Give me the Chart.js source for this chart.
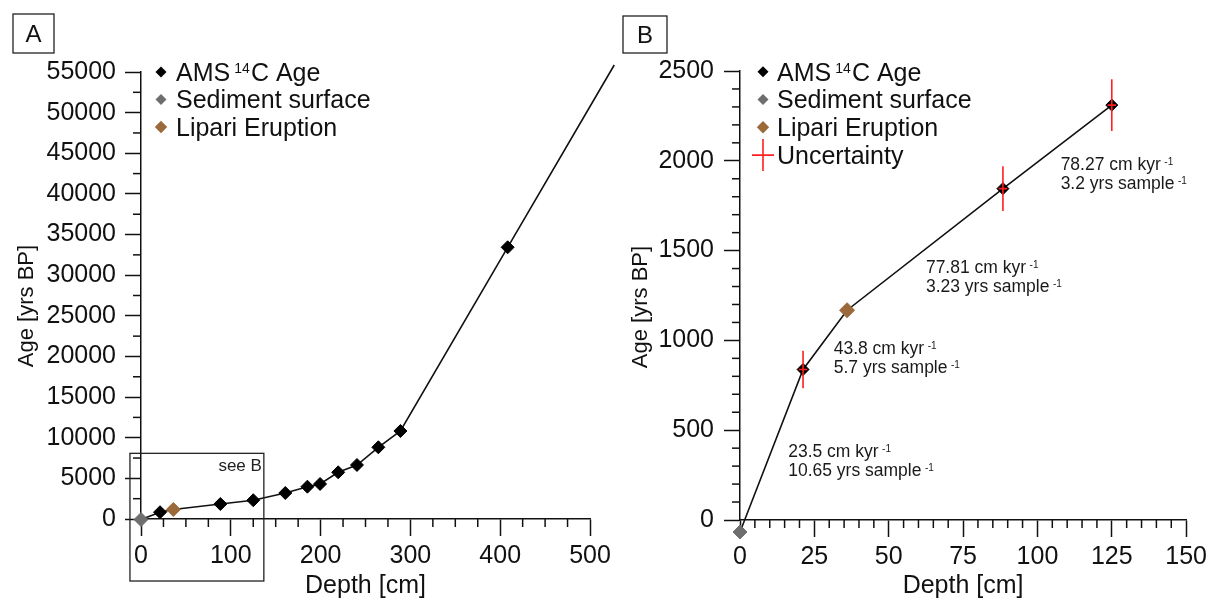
<!DOCTYPE html>
<html>
<head>
<meta charset="utf-8">
<title>Age-depth model</title>
<script src="https://cdn.jsdelivr.net/npm/chart.js@4.4.1/dist/chart.umd.min.js"></script>
<style>
  html, body { margin: 0; padding: 0; background: #fff; }
  #wrap { position: relative; width: 1212px; height: 601px; overflow: hidden; }
  .panel { position: absolute; top: 0; height: 601px; }
</style>
</head>
<body>
<div id="wrap">
  <div class="panel" style="left:0;width:616px"><canvas id="cA" width="616" height="601"></canvas></div>
  <div class="panel" style="left:616px;width:596px"><canvas id="cB" width="596" height="601"></canvas></div>
</div>
<script>
Chart.defaults.font.family = "'Liberation Sans', Arial, Helvetica, sans-serif";
Chart.defaults.color = '#111';

// ---- age-depth data: depth in cm, age in yrs BP ----
const surfaceDepth = [0];
const surfaceAge = [-67];
const lipariDepth = [36];
const lipariAge = [1168];
const amsDepth = [21.2, 88.4, 125, 160.7, 185.3, 199.4, 219.6, 240.5, 264.3, 288.9, 408.3];
const amsAge = [838, 1845, 2310, 3200, 3975, 4307, 5746, 6645, 8823, 10828, 33432];
// uncertainties of the three uppermost AMS dates
const amsAgeErr = [105, 125, 144];
const amsDepthErr = [1.4, 1.4, 1.4];
// model extrapolated below the deepest date
const baseDepth = [527];
const baseAge = [55860];

// ---- axis ticks ----
const depthTicksA = [0, 100, 200, 300, 400, 500];
const ageTicksA = [0, 5000, 10000, 15000, 20000, 25000, 30000, 35000, 40000, 45000, 50000, 55000];
const depthTicksB = [0, 25, 50, 75, 100, 125, 150];
const ageTicksB = [0, 500, 1000, 1500, 2000, 2500];

// ---- sedimentation rate / temporal resolution of each model segment ----
const rateCmKyr = ['23.5', '43.8', '77.81', '78.27'];
const resYrsSample = ['10.65', '5.7', '3.23', '3.2'];

const COL_AMS = '#000000';
const COL_SURF = '#6e6e6e';
const COL_LIP = '#9a6a3a';
const COL_ERR = '#ff1f1f';
const FONT = "'Liberation Sans', Arial, Helvetica, sans-serif";
const FS = 25;

const pts = (xs, ys) => xs.map((x, i) => ({ x: x, y: ys[i] }));

function modelLine(maxDepth) {
  return pts(surfaceDepth, surfaceAge)
    .concat(pts(lipariDepth, lipariAge), pts(amsDepth, amsAge), pts(baseDepth, baseAge))
    .filter(p => p.x <= maxDepth)
    .sort((a, b) => a.x - b.x);
}

function axis(min, max, tickArr, title, o) {
  return {
    type: 'linear', min: min, max: max,
    afterBuildTicks: s => { s.ticks = tickArr.map(v => ({ value: v })); },
    afterFit: s => { if (s.isHorizontal()) s.height = o.size; else s.width = o.size; },
    border: { display: true, color: '#111', width: 1.5 },
    grid: { display: true, drawOnChartArea: false, drawTicks: true, tickLength: o.tickLen, tickColor: '#111', tickWidth: 1.5 },
    ticks: { color: '#111', font: { size: FS }, padding: o.pad, autoSkip: false, maxRotation: 0, minRotation: 0, callback: v => String(v) },
    title: { display: o.showTitle, text: title, color: '#111', font: { size: FS }, padding: o.titlePad }
  };
}

function diamond(ctx, x, y, r, color) {
  ctx.beginPath();
  ctx.moveTo(x - r, y); ctx.lineTo(x, y - r); ctx.lineTo(x + r, y); ctx.lineTo(x, y + r);
  ctx.closePath();
  ctx.fillStyle = color; ctx.fill();
}

// text with superscripts: parts = [[text, isSup], ...]
function richText(ctx, x, yMid, parts, size, supSize, gap) {
  const base = yMid + 0.358 * size;
  const capTop = base - 0.716 * size;
  let cx = x;
  parts.forEach(([t, sup]) => {
    if (sup) {
      ctx.font = supSize + 'px ' + FONT;
      cx += gap;
      ctx.fillText(t, cx, capTop + 0.716 * supSize);
      cx += ctx.measureText(t).width + gap * 0.3;
    } else {
      ctx.font = size + 'px ' + FONT;
      ctx.fillText(t, cx, base);
      cx += ctx.measureText(t).width;
    }
  });
}

const panelDecor = {
  id: 'panelDecor',
  // markers just outside the plot frame (the surface sample) are still drawn
  beforeDatasetsDraw(chart) {
    chart._frame = chart.chartArea;
    const a = chart.chartArea;
    chart.chartArea = { left: a.left - 30, top: a.top - 30, right: a.right + 30, bottom: a.bottom + 30, width: a.width + 60, height: a.height + 60 };
  },
  afterDatasetsDraw(chart) {
    chart.chartArea = chart._frame;
    const o = chart.options.plugins.panelDecor;
    const ctx = chart.ctx, xs = chart.scales.x, ys = chart.scales.y, ca = chart.chartArea;
    ctx.save();
    // minor ticks
    ctx.strokeStyle = '#111'; ctx.lineWidth = 1.5;
    for (let v = xs.min; v <= xs.max + 1e-9; v += o.xMinor) {
      if (o.xMajor.includes(v)) continue;
      const px = xs.getPixelForValue(v);
      ctx.beginPath(); ctx.moveTo(px, ca.bottom); ctx.lineTo(px, ca.bottom + o.minorLen); ctx.stroke();
    }
    for (let v = ys.min; v <= ys.max + 1e-9; v += o.yMinor) {
      if (o.yMajor.includes(v)) continue;
      const py = ys.getPixelForValue(v);
      ctx.beginPath(); ctx.moveTo(ca.left - o.minorLen, py); ctx.lineTo(ca.left, py); ctx.stroke();
    }
    // dating uncertainty
    if (o.showErr) {
      ctx.strokeStyle = COL_ERR; ctx.lineWidth = 1.6;
      amsAgeErr.forEach((e, i) => {
        const px = xs.getPixelForValue(amsDepth[i]);
        const py = ys.getPixelForValue(amsAge[i]);
        ctx.beginPath();
        ctx.moveTo(px, ys.getPixelForValue(amsAge[i] - e));
        ctx.lineTo(px, ys.getPixelForValue(amsAge[i] + e));
        ctx.moveTo(xs.getPixelForValue(amsDepth[i] - amsDepthErr[i]), py);
        ctx.lineTo(xs.getPixelForValue(amsDepth[i] + amsDepthErr[i]), py);
        ctx.stroke();
      });
    }
    ctx.restore();
  },
  afterDraw(chart) {
    const o = chart.options.plugins.panelDecor;
    const ctx = chart.ctx, xs = chart.scales.x, ys = chart.scales.y, ca = chart.chartArea;
    ctx.save();
    // vertical axis title
    ctx.save();
    ctx.translate(o.yTitleX, o.yTitleY);
    ctx.rotate(-Math.PI / 2);
    ctx.fillStyle = '#111';
    ctx.font = '22px ' + FONT;
    ctx.textAlign = 'center'; ctx.textBaseline = 'middle';
    ctx.fillText('Age [yrs BP]', 0, 0);
    ctx.restore();
    // panel letter
    ctx.strokeStyle = '#222'; ctx.lineWidth = 1.3;
    const b = o.letterBox;
    ctx.strokeRect(b[0], b[1], b[2], b[3]);
    ctx.fillStyle = '#111';
    ctx.font = '24px ' + FONT;
    ctx.textAlign = 'center'; ctx.textBaseline = 'alphabetic';
    ctx.fillText(o.letter, b[0] + b[2] / 2, b[1] + b[3] / 2 + 8.6);
    ctx.textAlign = 'left';
    // legend
    const lx = ca.left + o.legendDx;
    o.legendRows.forEach((row, i) => {
      const y = ca.top + o.legendDy + i * o.legendStep;
      if (row.cross) {
        ctx.strokeStyle = COL_ERR; ctx.lineWidth = 1.6;
        ctx.beginPath();
        ctx.moveTo(lx - 11, y); ctx.lineTo(lx + 11, y);
        ctx.moveTo(lx, y - 16); ctx.lineTo(lx, y + 16);
        ctx.stroke();
      } else {
        diamond(ctx, lx, y, row.r, row.color);
      }
      ctx.fillStyle = '#111';
      richText(ctx, lx + o.legendTextDx, y, row.parts, FS, 14, 4);
    });
    // "see B" frame
    if (o.seeBox) {
      const s = o.seeBox;
      const x0 = xs.getPixelForValue(s[0]), x1 = xs.getPixelForValue(s[1]);
      const y0 = ys.getPixelForValue(s[3]), y1 = ys.getPixelForValue(s[2]);
      ctx.strokeStyle = '#222'; ctx.lineWidth = 1.3;
      ctx.strokeRect(x0, y0, x1 - x0, y1 - y0);
      ctx.fillStyle = '#222';
      ctx.font = '17px ' + FONT;
      ctx.textAlign = 'right';
      ctx.fillText('see B', x1 - 2, y0 + 18);
      ctx.textAlign = 'left';
    }
    // segment annotations
    if (o.rateAt) {
      ctx.fillStyle = '#1a1a1a';
      o.rateAt.forEach((p, i) => {
        const x = xs.getPixelForValue(p[0]);
        const y = ys.getPixelForValue(p[1]);
        richText(ctx, x, y, [[rateCmKyr[i] + ' cm kyr', false], ['-1', true]], 17.5, 10, 3.5);
        richText(ctx, x, y + 19, [[resYrsSample[i] + ' yrs sample', false], ['-1', true]], 17.5, 10, 3.5);
      });
    }
    ctx.restore();
  }
};

const legendBase = [
  { color: COL_AMS, r: 5.5, parts: [['AMS', false], ['14', true], ['C Age', false]] },
  { color: COL_SURF, r: 5.5, parts: [['Sediment surface', false]] },
  { color: COL_LIP, r: 6.2, parts: [['Lipari Eruption', false]] }
];

function makeChart(id, c) {
  const datasets = [
    { data: pts(amsDepth, amsAge).filter(p => p.x <= c.maxDepth), pointStyle: 'rectRot', pointRadius: c.rAms,
      backgroundColor: COL_AMS, borderColor: COL_AMS, borderWidth: 1, clip: false, order: 1 },
    { data: pts(lipariDepth, lipariAge), pointStyle: 'rectRot', pointRadius: c.rLip,
      backgroundColor: COL_LIP, borderColor: COL_LIP, borderWidth: 1, clip: false, order: 1 },
    { data: pts(surfaceDepth, surfaceAge), pointStyle: 'rectRot', pointRadius: c.rSurf,
      backgroundColor: COL_SURF, borderColor: COL_SURF, borderWidth: 1, clip: false, order: 1 },
    { data: modelLine(c.maxDepth), showLine: true, pointRadius: 0, borderColor: '#111', borderWidth: 1.6,
      fill: false, tension: 0, clip: false, order: 5 }
  ];
  return new Chart(document.getElementById(id), {
    type: 'scatter',
    data: { datasets: datasets },
    options: {
      responsive: false, animation: false, devicePixelRatio: 1,
      layout: { padding: c.padding },
      events: [],
      scales: {
        x: axis(0, c.xMax, c.xTicks, 'Depth [cm]', { size: c.xSize, tickLen: 17, pad: 5, showTitle: true, titlePad: { top: 0, bottom: 0 } }),
        y: axis(0, c.yMax, c.yTicks, 'Age [yrs BP]', { size: c.ySize, tickLen: 16, pad: c.yPad, showTitle: false, titlePad: 0 })
      },
      plugins: {
        legend: { display: false }, tooltip: { enabled: false },
        panelDecor: c.decor
      }
    },
    plugins: [panelDecor]
  });
}

makeChart('cA', {
  maxDepth: 1000, xMax: 500, yMax: 55000, xTicks: depthTicksA, yTicks: ageTicksA,
  rAms: 6.5, rLip: 7, rSurf: 7,
  padding: { left: 0, top: 72, right: 26, bottom: 0 }, xSize: 82, ySize: 141, yPad: 9,
  decor: {
    xMinor: 25, xMajor: depthTicksA, yMinor: 2500, yMajor: ageTicksA, minorLen: 8,
    yTitleX: 26.5, yTitleY: 306,
    letter: 'A', letterBox: [13, 14, 41, 39],
    legendRows: legendBase, legendDx: 20, legendDy: 0, legendStep: 27.5, legendTextDx: 15,
    seeBox: [-12.3, 136.8, -7630, 8080]
  }
});

makeChart('cB', {
  maxDepth: 130, xMax: 150, yMax: 2500, xTicks: depthTicksB, yTicks: ageTicksB,
  rAms: 6, rLip: 7.5, rSurf: 7,
  padding: { left: 0, top: 71, right: 24, bottom: 0 }, xSize: 81, ySize: 124, yPad: 10,
  decor: {
    xMinor: 5, xMajor: depthTicksB, yMinor: 100, yMajor: ageTicksB, minorLen: 8,
    yTitleX: 25, yTitleY: 307,
    letter: 'B', letterBox: [7, 16, 44, 37],
    legendRows: legendBase.concat([{ cross: true, parts: [['Uncertainty', false]] }]),
    legendDx: 23, legendDy: 0.7, legendStep: 27.8, legendTextDx: 14,
    showErr: true,
    rateAt: [[16.2, 384], [31.5, 958], [62.5, 1409], [107.8, 1984]]
  }
});
</script>
</body>
</html>
